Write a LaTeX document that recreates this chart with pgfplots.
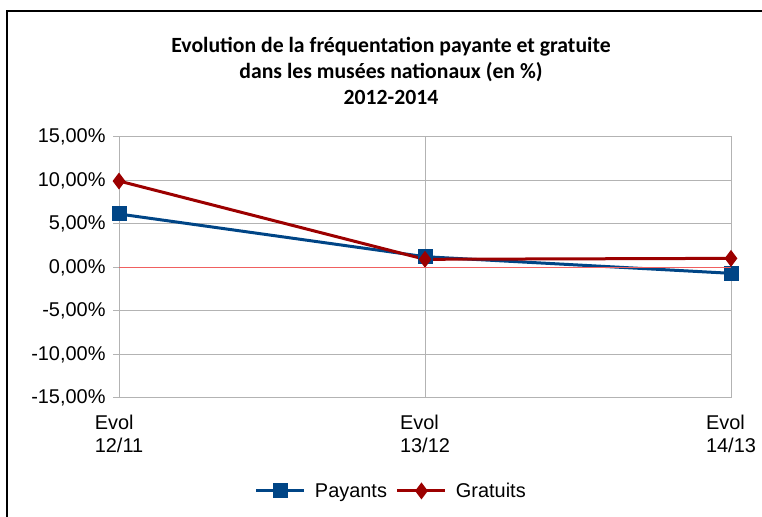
\documentclass[border=0pt]{standalone}
\usepackage{pgfplots}
\pgfplotsset{compat=1.18}
\usepackage{fontspec}
\setmainfont{Liberation Sans}
\newfontfamily\titlefont{Carlito}
\definecolor{payblue}{HTML}{004586}
\definecolor{gratred}{HTML}{9C0000}
\definecolor{gridgray}{HTML}{B3B3B3}
\definecolor{zerored}{HTML}{F06060}
\begin{document}
\begin{tikzpicture}[x=1bp,y=1bp]
\useasboundingbox (0,0) rectangle (762,517);
\draw[line width=2bp] (7,0) -- (7,506) -- (762,506);
\node[font=\titlefont\bfseries\fontsize{21.8}{26}\selectfont, align=center] at (391,446) {Evolution de la fréquentation payante et gratuite\\dans les musées nationaux (en \%)\\2012-2014};
\begin{axis}[
  at={(119bp,119bp)}, anchor=south west,
  scale only axis, width=612bp, height=261bp,
  xmin=0, xmax=2, ymin=-15, ymax=15,
  xtick={0,1,2},
  xticklabels={Evol\\12/11, Evol\\13/12, Evol\\14/13},
  xticklabel style={align=left, font=\fontsize{20}{23}\selectfont, yshift=-8bp},
  ytick={-15,-10,-5,0,5,10,15},
  yticklabels={-15{,}00\%,-10{,}00\%,-5{,}00\%,0{,}00\%,5{,}00\%,10{,}00\%,15{,}00\%},
  yticklabel style={font=\fontsize{20}{23}\selectfont, xshift=-4bp},
  ytick pos=left, tick align=outside, major tick length=6bp,
  x tick style={draw=none},
  y tick style={gridgray, line width=1bp},
  grid=major, grid style={gridgray, line width=1bp},
  axis line style={gridgray, line width=1bp},
  legend style={at={(0.445,-0.356)}, anchor=center, draw=none, legend columns=-1,
    font=\fontsize{20}{23}\selectfont, column sep=7bp},
  legend image code/.code={\draw[mark repeat=2,mark phase=2] plot coordinates {(0bp,0bp) (24bp,0bp) (48bp,0bp)};},
]
\addplot[payblue, line width=3bp, mark=square*, mark size=6bp, mark options={solid}] coordinates {(0,6.15) (1,1.24) (2,-0.67)};
\addlegendentry{Payants}
\addplot[gratred, line width=3bp, mark=diamond*, mark size=6bp, mark options={solid}] coordinates {(0,9.94) (1,0.94) (2,1.05)};
\addlegendentry{Gratuits}
\end{axis}
\draw[zerored, line width=1.4bp] (119,249.5) -- (731,249.5);
\end{tikzpicture}
\end{document}
